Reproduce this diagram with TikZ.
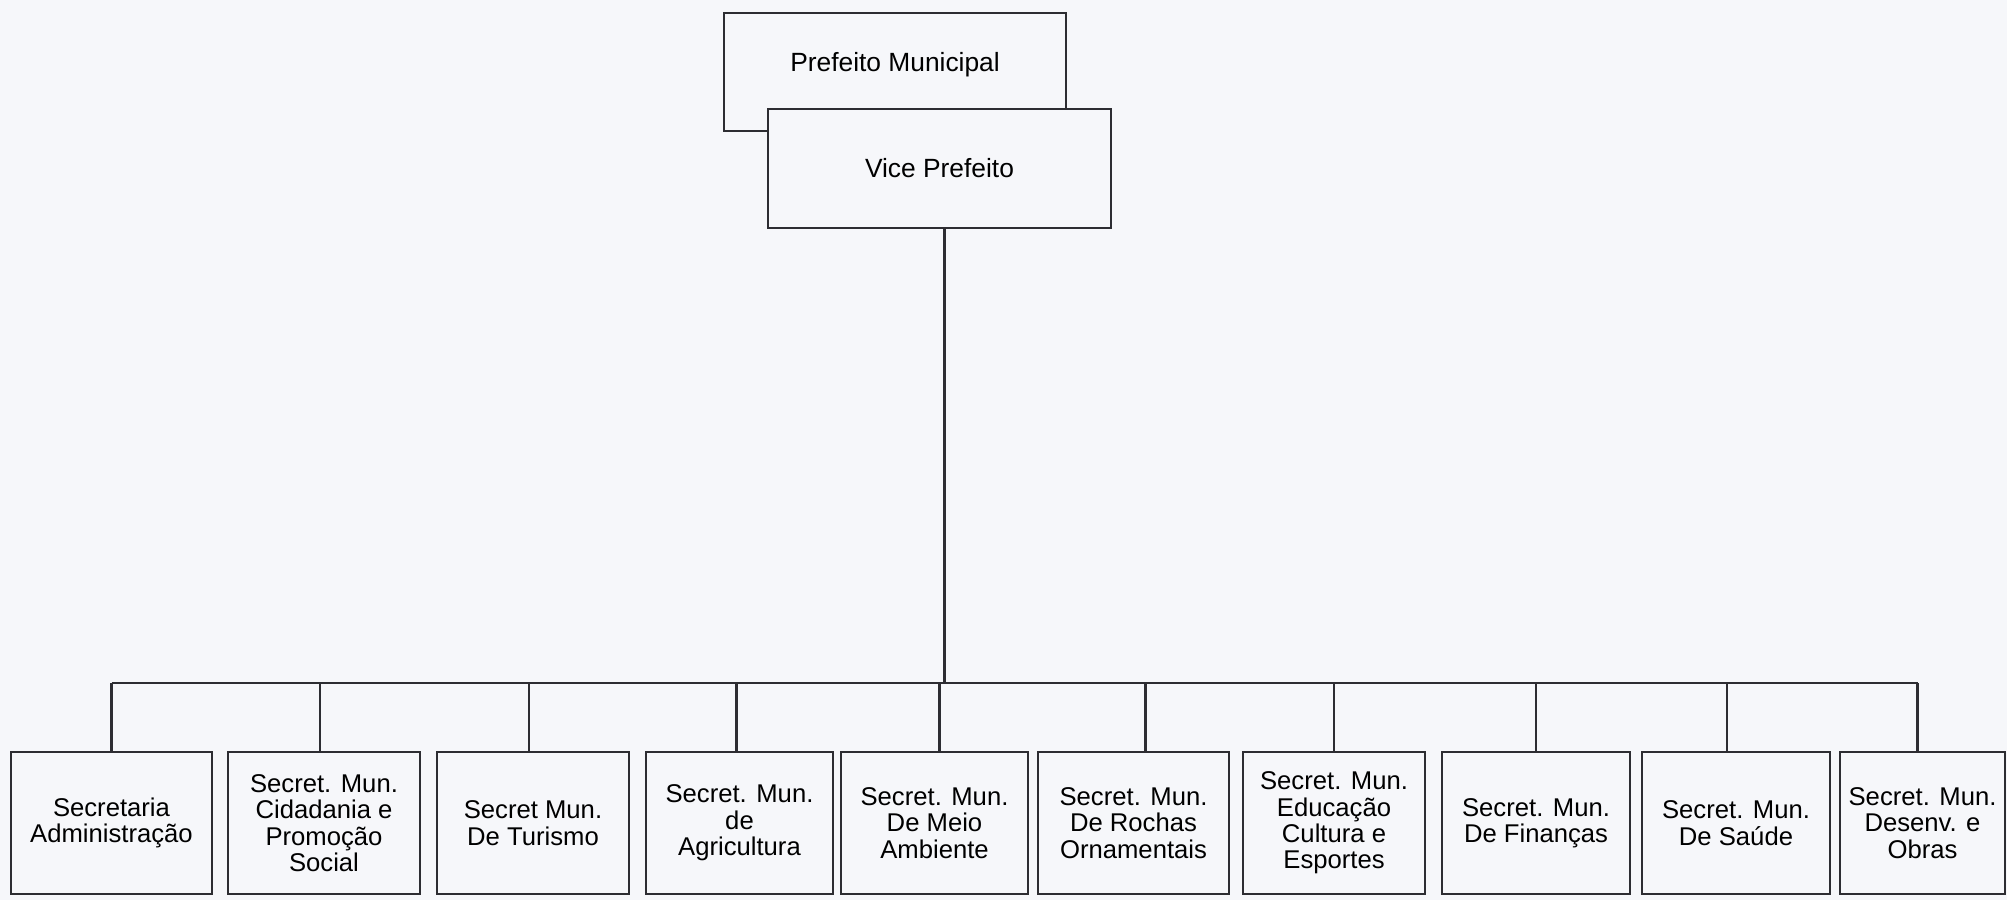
\documentclass[tikz,border=0pt]{standalone}
\usepackage{fontspec}
\setmainfont{Liberation Sans}
\usetikzlibrary{positioning}
\definecolor{paper}{RGB}{246,247,250}
\definecolor{ink}{RGB}{45,45,50}

\begin{document}
\begin{tikzpicture}
[node distance=.15cm,
orgbox/.style={shape=rectangle,draw=ink,fill=paper,line width=.8pt,outer sep=0pt,
inner sep=1pt,align=center,font=\fontsize{7.5}{9}\selectfont},
secbox/.style={orgbox,minimum height=1.42cm,font=\fontsize{7.3}{7.5}\selectfont},
orgedge/.style={draw=ink,line width=.8pt}]
%%%%%%%%%%
%% paper
\fill[paper] (0,0) rectangle (20.07,9);
\useasboundingbox (0,0) rectangle (20.07,9);
%%%%% top
\node (pm) [orgbox,minimum width=3.42cm,minimum height=1.18cm,text height=5.5pt,
text depth=6pt] at (8.95,8.28) {Prefeito Municipal};
\node (vp) [orgbox,minimum width=3.43cm,minimum height=1.19cm] at (9.395,7.315)
{Vice Prefeito};
%%%%% secretarias
\node (s1) [secbox,minimum width=2.01cm] at (1.115,.77) {Secretaria\\Administração};
\node (s2) [secbox,minimum width=1.92cm,right=.16cm of s1]
{Secret. Mun.\\Cidadania e\\Promoção\\Social};
\node (s3) [secbox,minimum width=1.92cm,right=.17cm of s2] {Secret Mun.\\De Turismo};
\node (s4) [secbox,minimum width=1.87cm,right=.17cm of s3]
{Secret. Mun.\\de\\Agricultura};
\node (s5) [secbox,minimum width=1.87cm,right=.08cm of s4]
{Secret. Mun.\\De Meio\\Ambiente};
\node (s6) [secbox,minimum width=1.91cm,right=.10cm of s5]
{Secret. Mun.\\De Rochas\\Ornamentais};
\node (s7) [secbox,minimum width=1.82cm,right=.14cm of s6]
{Secret. Mun.\\Educação\\Cultura e\\Esportes};
\node (s8) [secbox,minimum width=1.88cm,right=.17cm of s7]
{Secret. Mun.\\De Finanças};
\node (s9) [secbox,minimum width=1.88cm,right=.12cm of s8] {Secret. Mun.\\De Saúde};
\node (s10) [secbox,minimum width=1.65cm,right=.10cm of s9]
{Secret. Mun.\\Desenv. e\\Obras};
%% edges
\coordinate (bus) at ([xshift=.05cm]vp.south |- 0,2.17);
\draw[orgedge] ([xshift=.05cm]vp.south) -- (bus);
\draw[orgedge] (s1.north |- bus) -- ([xshift=-.05cm]s10.north |- bus);
\draw[orgedge] (s1.north) -- (s1.north |- bus);
\draw[orgedge] ([xshift=-.04cm]s2.north) -- ([xshift=-.04cm]s2.north |- bus);
\draw[orgedge] ([xshift=-.04cm]s3.north) -- ([xshift=-.04cm]s3.north |- bus);
\draw[orgedge] ([xshift=-.03cm]s4.north) -- ([xshift=-.03cm]s4.north |- bus);
\draw[orgedge] ([xshift=.05cm]s5.north) -- ([xshift=.05cm]s5.north |- bus);
\draw[orgedge] ([xshift=.12cm]s6.north) -- ([xshift=.12cm]s6.north |- bus);
\draw[orgedge] (s7.north) -- (s7.north |- bus);
\draw[orgedge] (s8.north) -- (s8.north |- bus);
\draw[orgedge] ([xshift=-.09cm]s9.north) -- ([xshift=-.09cm]s9.north |- bus);
\draw[orgedge] ([xshift=-.05cm]s10.north) -- ([xshift=-.05cm]s10.north |- bus);
%%
\end{tikzpicture}
\end{document}
